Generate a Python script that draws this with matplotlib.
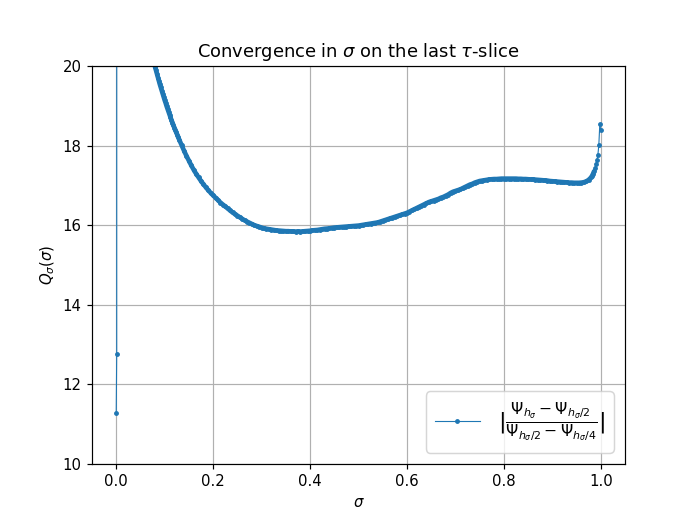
import matplotlib
matplotlib.use("Agg")
import matplotlib.pyplot as plt

# sigma grid points
sigma_start = [0.0, 0.001, 0.002, 0.01, 0.03, 0.05, 0.06, 0.066, 0.07, 0.072, 0.074]
q_start = [11.29, 12.76, 95.0, 60.0, 32.0, 24.8, 22.6, 21.6, 21.0, 20.7, 20.45]

sigma_steep = [0.076, 0.078, 0.080, 0.082, 0.084, 0.086, 0.088, 0.090, 0.092, 0.094,
               0.096, 0.098, 0.100, 0.102, 0.104, 0.106, 0.108, 0.110, 0.112, 0.114,
               0.116, 0.118, 0.120, 0.122, 0.124, 0.126, 0.128, 0.130]
q_steep = [20.16, 20.07, 19.98, 19.89, 19.80, 19.71, 19.62, 19.54, 19.46, 19.38,
           19.30, 19.22, 19.14, 19.07, 18.99, 18.92, 18.85, 18.78, 18.71, 18.64,
           18.58, 18.51, 18.45, 18.39, 18.33, 18.27, 18.21, 18.15]

sigma_main = [0.135, 0.140, 0.145, 0.150, 0.155, 0.160, 0.165, 0.170, 0.175, 0.180,
              0.185, 0.190, 0.195, 0.200, 0.205, 0.210, 0.215, 0.220, 0.225, 0.230,
              0.235, 0.240, 0.245, 0.250, 0.255, 0.260, 0.265, 0.270, 0.275, 0.280,
              0.285, 0.290, 0.295, 0.300, 0.305, 0.310, 0.315, 0.320, 0.325, 0.330,
              0.335, 0.340, 0.345, 0.350, 0.355, 0.360, 0.365, 0.370, 0.375, 0.380,
              0.385, 0.390, 0.395, 0.400, 0.405, 0.410, 0.415, 0.420, 0.425, 0.430,
              0.435, 0.440, 0.445, 0.450, 0.455, 0.460, 0.465, 0.470, 0.475, 0.480,
              0.485, 0.490, 0.495, 0.500, 0.505, 0.510, 0.515, 0.520, 0.525, 0.530,
              0.535, 0.540, 0.545, 0.550, 0.555, 0.560, 0.565, 0.570, 0.575, 0.580,
              0.585, 0.590, 0.595, 0.600, 0.605, 0.610, 0.615, 0.620, 0.625, 0.630,
              0.635, 0.640, 0.645, 0.650, 0.655, 0.660, 0.665, 0.670, 0.675, 0.680,
              0.685, 0.690, 0.695, 0.700, 0.705, 0.710, 0.715, 0.720, 0.725, 0.730,
              0.735, 0.740, 0.745, 0.750, 0.755, 0.760, 0.765, 0.770, 0.775, 0.780,
              0.785, 0.790, 0.795, 0.800, 0.805, 0.810, 0.815, 0.820, 0.825, 0.830,
              0.835, 0.840, 0.845, 0.850, 0.855, 0.860, 0.865, 0.870, 0.875, 0.880,
              0.885, 0.890, 0.895, 0.900, 0.905, 0.910, 0.915, 0.920, 0.925, 0.930,
              0.935, 0.940, 0.945, 0.950, 0.955, 0.960, 0.965, 0.970, 0.975, 0.980]
q_main = [18.01, 17.87, 17.74, 17.62, 17.50, 17.39, 17.29, 17.20, 17.11, 17.03,
          16.95, 16.88, 16.81, 16.75, 16.69, 16.63, 16.57, 16.52, 16.47, 16.42,
          16.37, 16.32, 16.28, 16.24, 16.20, 16.16, 16.12, 16.09, 16.06, 16.03,
          16.00, 15.98, 15.96, 15.94, 15.92, 15.91, 15.90, 15.89, 15.88, 15.87,
          15.865, 15.86, 15.855, 15.85, 15.85, 15.845, 15.845, 15.84, 15.845, 15.84,
          15.845, 15.85, 15.855, 15.86, 15.87, 15.875, 15.88, 15.89, 15.90, 15.91,
          15.915, 15.92, 15.93, 15.94, 15.945, 15.95, 15.955, 15.96, 15.965, 15.97,
          15.975, 15.98, 15.985, 15.99, 16.00, 16.01, 16.02, 16.03, 16.04, 16.05,
          16.06, 16.07, 16.09, 16.11, 16.13, 16.15, 16.17, 16.19, 16.21, 16.23,
          16.25, 16.27, 16.29, 16.31, 16.34, 16.37, 16.40, 16.43, 16.46, 16.49,
          16.52, 16.55, 16.58, 16.60, 16.62, 16.64, 16.66, 16.69, 16.71, 16.74,
          16.77, 16.81, 16.84, 16.86, 16.88, 16.90, 16.93, 16.96, 16.99, 17.02,
          17.04, 17.07, 17.09, 17.11, 17.12, 17.13, 17.14, 17.15, 17.155, 17.16,
          17.16, 17.165, 17.17, 17.17, 17.17, 17.17, 17.17, 17.17, 17.17, 17.165,
          17.165, 17.16, 17.16, 17.155, 17.15, 17.15, 17.145, 17.14, 17.135, 17.13,
          17.125, 17.12, 17.11, 17.105, 17.10, 17.095, 17.09, 17.085, 17.08, 17.075,
          17.07, 17.07, 17.065, 17.065, 17.065, 17.07, 17.08, 17.10, 17.14, 17.20]

sigma_end = [0.982, 0.984, 0.986, 0.988, 0.990, 0.992, 0.994, 0.996, 0.998, 1.000]
q_end = [17.24, 17.29, 17.35, 17.43, 17.53, 17.63, 17.76, 18.02, 18.54, 18.39]

sigma = sigma_start + sigma_steep + sigma_main + sigma_end
q = q_start + q_steep + q_main + q_end

label = r'$|\frac{\Psi_{h_\sigma} - \Psi_{h_\sigma/2}}{\Psi_{h_\sigma/2} - \Psi_{h_\sigma/4}}|$'
color = '#1f77b4'

fig = plt.figure(figsize=(6.4, 519 / 107.5), dpi=107.5)
ax = fig.add_axes([92 / 688, 1 - 464 / 519, 533 / 688, 398 / 519])
# dense band of overlapping markers in the smooth part of the curve
ax.plot(sigma_steep + sigma_main + sigma_end[:3], q_steep + q_main + q_end[:3],
        '-', color=color, lw=3.1, solid_capstyle='round', solid_joinstyle='round')
ax.plot(sigma, q, '.-', color=color, lw=0.75, markersize=4.5, label=label)
ax.set_ylim(10, 20)
ax.set_xlim(-0.05, 1.05)
ax.set_yticks([10, 12, 14, 16, 18, 20])
ax.set_xticks([0.0, 0.2, 0.4, 0.6, 0.8, 1.0])
ax.grid(True)
ax.set_title(r'Convergence in $\sigma$ on the last $\tau$-slice')
ax.set_xlabel(r'$\sigma$')
ax.set_ylabel(r'$Q_\sigma(\sigma)$')
ax.legend(loc='lower right', fontsize=15)
fig.savefig('out.png', dpi=107.5)
